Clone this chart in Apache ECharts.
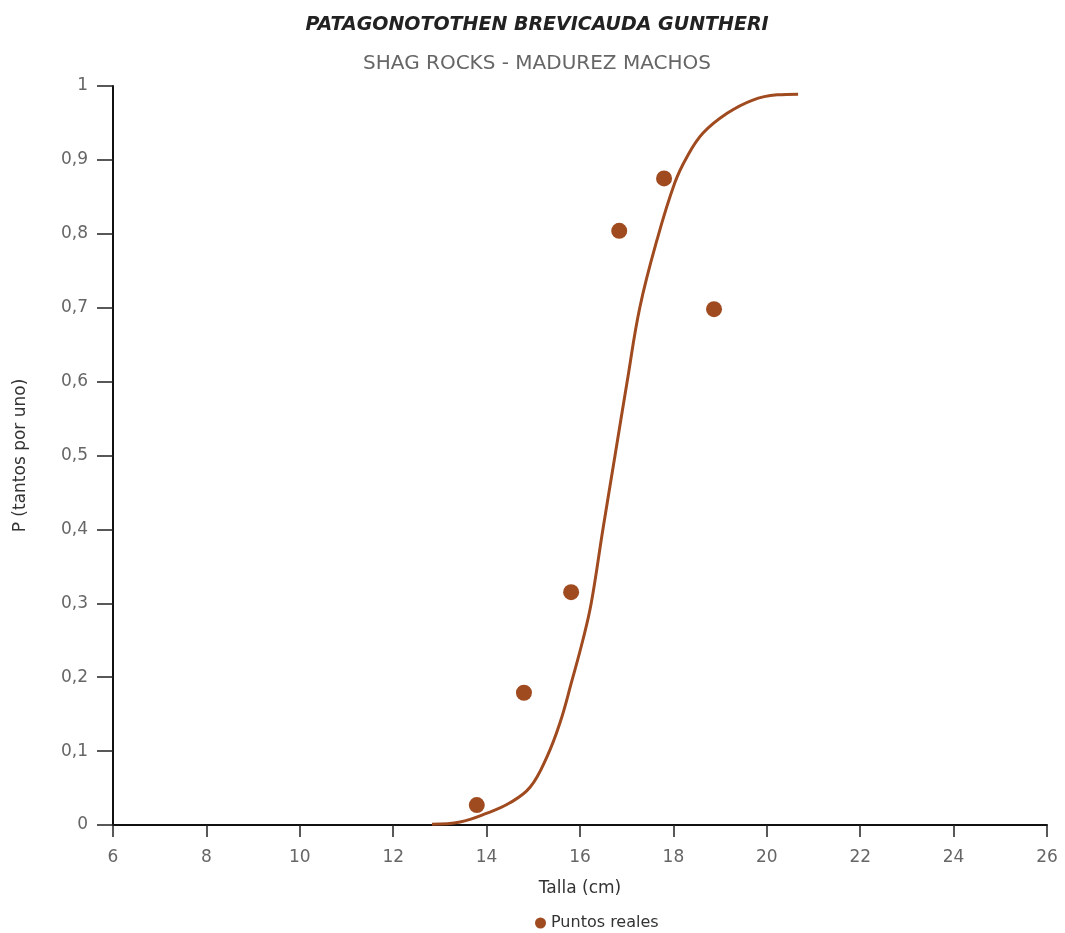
<!DOCTYPE html>
<html>
<head>
<meta charset="utf-8">
<script src="https://cdn.jsdelivr.net/npm/echarts@6/dist/echarts.min.js"></script>
<style>html,body{margin:0;padding:0;background:#fff;}#c{width:1065px;height:933px;}</style>
</head>
<body>
<div id="c"></div>
<script>
// Data
const pointsX = [13.79, 14.80, 15.81, 16.84, 17.80, 18.87];
const pointsY = [0.027, 0.179, 0.315, 0.804, 0.875, 0.698];
const curveX = [12.83, 13.43, 14.01, 14.50, 14.93, 15.29, 15.57, 15.83, 16.06, 16.24, 16.49, 16.75, 17.01, 17.28, 17.65, 18.03, 18.29, 18.63, 19.15, 19.70, 20.22, 20.67];
const curveY = [0.001, 0.004, 0.016, 0.030, 0.051, 0.092, 0.138, 0.196, 0.250, 0.300, 0.400, 0.500, 0.600, 0.700, 0.792, 0.869, 0.904, 0.936, 0.963, 0.981, 0.988, 0.989];
const xTicks = [6, 8, 10, 12, 14, 16, 18, 20, 22, 24, 26];
const yTickLabels = ['0', '0,1', '0,2', '0,3', '0,4', '0,5', '0,6', '0,7', '0,8', '0,9', '1'];

const brown = '#a04a1f';
const grey = '#666';
const font = 'DejaVu Sans';

const chart = echarts.init(document.getElementById('c'));
chart.setOption({
  backgroundColor: '#fff',
  animation: false,
  title: [
    { text: 'PATAGONOTOTHEN BREVICAUDA GUNTHERI', left: 532, top: 11, textAlign: 'center',
      textStyle: { fontFamily: font, fontStyle: 'italic', fontWeight: 'bold', fontSize: 19, color: '#222' } },
    { text: 'SHAG ROCKS - MADUREZ MACHOS', left: 532, top: 49, textAlign: 'center',
      textStyle: { fontFamily: font, fontWeight: 'normal', fontSize: 20, color: '#666' } }
  ],
  legend: {
    data: ['Puntos reales'], top: 910, left: 530, icon: 'circle', itemWidth: 11, itemHeight: 11, itemGap: 6,
    textStyle: { fontFamily: font, fontSize: 16, color: '#333' }
  },
  grid: { left: 113, right: 18, top: 86, bottom: 108 },
  xAxis: {
    type: 'value', min: 6, max: 26, interval: 2,
    name: 'Talla (cm)', nameLocation: 'middle', nameGap: 55,
    nameTextStyle: { fontFamily: font, fontSize: 17, color: '#333' },
    axisLine: { lineStyle: { color: '#111', width: 2 } },
    axisTick: { show: true, length: 12, lineStyle: { color: '#222', width: 1.5 } },
    axisLabel: { fontFamily: font, fontSize: 17, color: grey, margin: 24,
      formatter: v => xTicks.indexOf(v) >= 0 ? String(v) : '' },
    splitLine: { show: false }
  },
  yAxis: {
    type: 'value', min: 0, max: 1, interval: 0.1,
    name: 'P (tantos por uno)', nameLocation: 'middle', nameGap: 84, nameRotate: 90,
    nameTextStyle: { fontFamily: font, fontSize: 17, color: '#333' },
    axisLine: { show: true, lineStyle: { color: '#111', width: 2 } },
    axisTick: { show: true, length: 16, lineStyle: { color: '#222', width: 1.5 } },
    axisLabel: { fontFamily: font, fontSize: 17, color: grey, margin: 25,
      formatter: v => yTickLabels[Math.round(v * 10)] },
    splitLine: { show: false }
  },
  series: [
    {
      name: 'Curva', type: 'line', smooth: 0.4, showSymbol: false,
      data: curveX.map((x, i) => [x, curveY[i]]),
      lineStyle: { color: brown, width: 3 }, itemStyle: { color: brown }, z: 2
    },
    {
      name: 'Puntos reales', type: 'scatter', symbol: 'circle', symbolSize: 16,
      data: pointsX.map((x, i) => [x, pointsY[i]]),
      itemStyle: { color: brown, opacity: 1 }, z: 3
    }
  ]
});
</script>
</body>
</html>
